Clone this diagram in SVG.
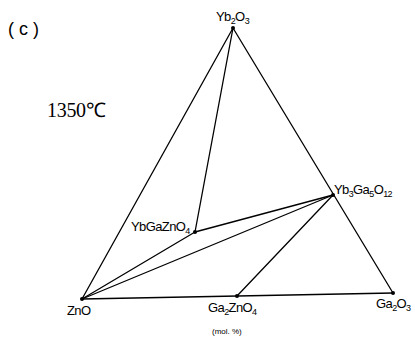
<svg xmlns="http://www.w3.org/2000/svg" width="415" height="337" viewBox="0 0 415 337">
<style>
.ln{stroke:#000;stroke-width:1.3;fill:none;stroke-linecap:round}
.lb{font-family:"Liberation Sans",Arial,sans-serif;font-size:13px;fill:#000;letter-spacing:-0.6px}
.sb{font-size:9px}
.pt{fill:#000}
</style>
<rect width="415" height="337" fill="#fff"/>
<text x="8" y="35" font-family="Liberation Sans,Arial,sans-serif" font-size="18" fill="#000">( c )</text>
<text x="47" y="117" font-family="Liberation Serif,Times New Roman,serif" font-size="20" fill="#000" letter-spacing="-0.3">1350℃</text>
<g id="connectors">
<line class="ln" x1="233" y1="28" x2="82" y2="299"/>
<line class="ln" x1="233" y1="28" x2="393" y2="293"/>
<line class="ln" x1="82" y1="299" x2="393" y2="293"/>
<line class="ln" x1="233" y1="28" x2="195" y2="232"/>
<line class="ln" x1="82" y1="299" x2="195" y2="232"/>
<line class="ln" x1="195" y1="232" x2="333" y2="195"/>
<line class="ln" x1="82" y1="299" x2="333" y2="195"/>
<line class="ln" x1="237" y1="296" x2="333" y2="195"/>
</g>
<g id="Yb2O3"><circle class="pt" cx="233" cy="28" r="2"/><text class="lb" x="216" y="21">Yb<tspan class="sb" dy="3">2</tspan><tspan dy="-3">O</tspan><tspan class="sb" dy="3">3</tspan></text></g>
<g id="ZnO"><circle class="pt" cx="82" cy="299" r="2"/><text class="lb" x="67" y="315">ZnO</text></g>
<g id="Ga2O3"><circle class="pt" cx="393" cy="293" r="2"/><text class="lb" x="376" y="308">Ga<tspan class="sb" dy="3">2</tspan><tspan dy="-3">O</tspan><tspan class="sb" dy="3">3</tspan></text></g>
<g id="YbGaZnO4"><circle class="pt" cx="195" cy="232" r="2"/><text class="lb" x="131" y="231">YbGaZnO<tspan class="sb" dy="3">4</tspan></text></g>
<g id="Yb3Ga5O12"><circle class="pt" cx="333" cy="195" r="2"/><text class="lb" x="334" y="194">Yb<tspan class="sb" dy="3">3</tspan><tspan dy="-3">Ga</tspan><tspan class="sb" dy="3">5</tspan><tspan dy="-3">O</tspan><tspan class="sb" dy="3">12</tspan></text></g>
<g id="Ga2ZnO4"><circle class="pt" cx="237" cy="296" r="2"/><text class="lb" x="208" y="312">Ga<tspan class="sb" dy="3">2</tspan><tspan dy="-3">ZnO</tspan><tspan class="sb" dy="3">4</tspan></text></g>
<text x="212" y="334" font-family="Liberation Sans,Arial,sans-serif" font-size="8" fill="#000">(mol. %)</text>
</svg>
